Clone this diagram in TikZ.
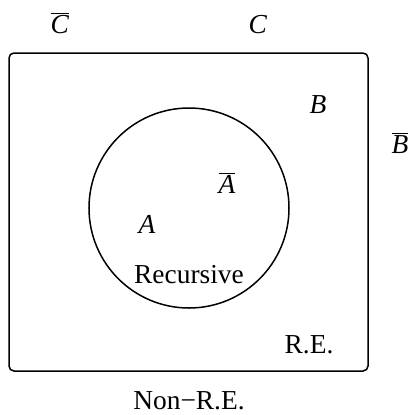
\documentclass[tikz,border=0pt]{standalone}
\usepackage{fontspec}
\setmainfont{Liberation Serif}
\usetikzlibrary{positioning}
\tikzset{
  setbox/.style={draw, rounded corners=5bp, line width=1.5bp},
  setring/.style={draw, line width=1.5bp},
  lbl/.style={anchor=base, inner sep=0pt, font=\fontsize{27.5}{33}\selectfont},
}
\newcommand{\cset}[1]{\textit{#1}}
\newcommand{\nset}[1]{$\overline{\mbox{\textit{#1}}}$}

\begin{document}
\begin{tikzpicture}[x=1bp,y=-1bp]
  \useasboundingbox (0,0) rectangle (412,415);

  % outer frame and recursive set
  \draw[setbox] (9,53) rectangle (368,371);
  \node[setring, circle, minimum size=200bp, inner sep=0pt] (rec) at (189,208) {};

  % labels outside
  \node[lbl] (cbar) at (60,33) {\nset{C}};
  \node[lbl] (c) at (258,33) {\cset{C}};
  \node[lbl] (bbar) at (400,153) {\nset{B}};
  \node[lbl] (nre) at (189,409) {Non−R.E.};

  % labels inside
  \node[lbl] (b) at (318,113) {\cset{B}};
  \node[lbl] (re) at (309,353) {R.E.};
  \node[lbl] (abar) at (227,193) {\nset{A}};
  \node[lbl] (a) at (147,233) {\cset{A}};
  \node[lbl] (rname) at (189,283) {Recursive};
\end{tikzpicture}
\end{document}
